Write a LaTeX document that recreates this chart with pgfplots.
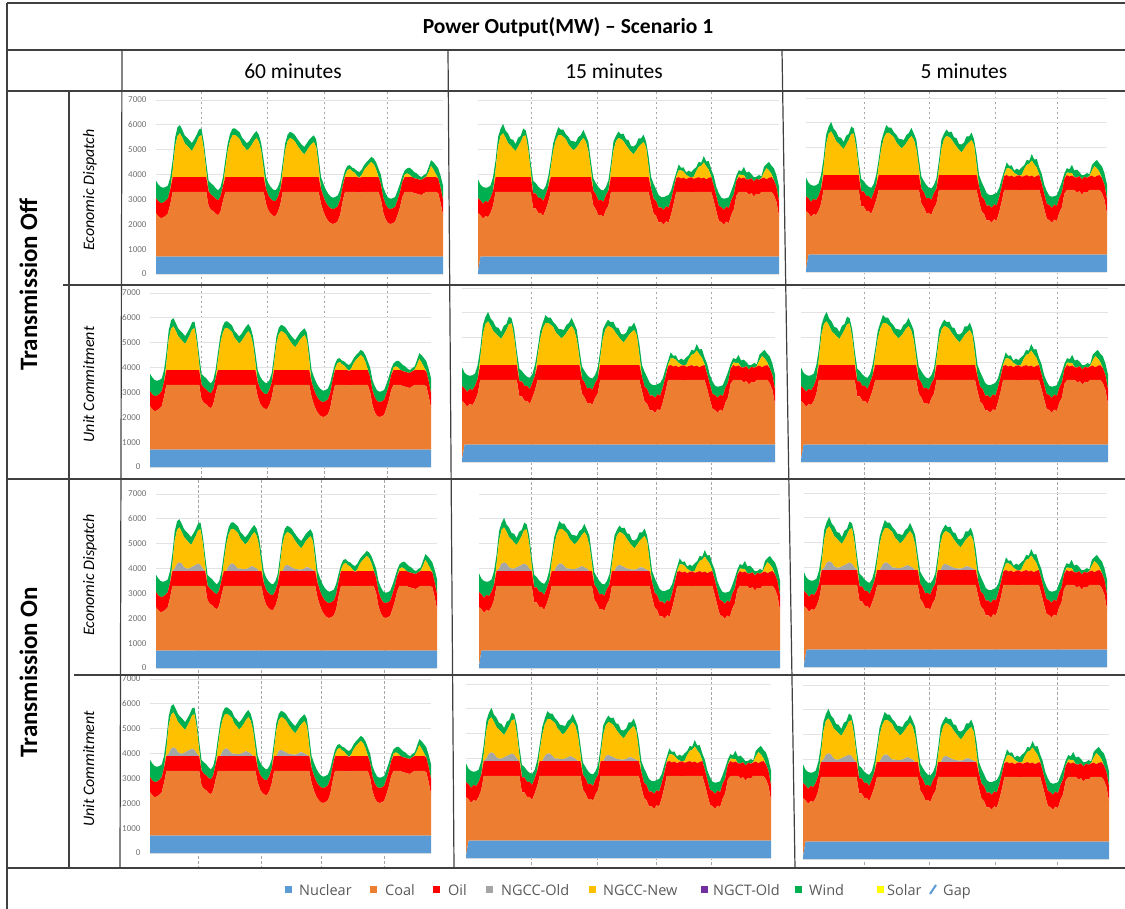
\documentclass[border=0pt]{standalone}
\usepackage{fontspec}
\setmainfont{Carlito}
\newfontfamily\legfont{Open Sans}
\usepackage{pgfplots}
\usepackage{pgfplotstable}
\pgfplotsset{compat=1.18}
\definecolor{cNuc}{HTML}{5B9BD5}
\definecolor{cCoal}{HTML}{ED7D31}
\definecolor{cOil}{HTML}{FF0000}
\definecolor{cOld}{HTML}{A5A5A5}
\definecolor{cNew}{HTML}{FFC000}
\definecolor{cCT}{HTML}{7030A0}
\definecolor{cWind}{HTML}{00B050}
\definecolor{cSolar}{HTML}{FFFF00}
\definecolor{gridc}{HTML}{E3E3E3}
\definecolor{tickc}{HTML}{707070}
\definecolor{linec}{HTML}{404040}
\definecolor{dashc}{HTML}{A6A6A6}
\definecolor{legc}{HTML}{595959}

% 60-minute, no NGCC-Old
\pgfplotstableread{
t nuc coal oil old new wind
0 700 1750 600 0 0 700
1 700 1620 600 0 0 680
2 700 1550 600 0 0 650
3 700 1570 600 0 0 600
4 700 1640 600 0 0 560
5 700 1740 600 0 0 520
6 700 2120 600 0 0 480
7 700 2600 600 0 280 420
8 700 2600 600 0 1230 370
9 700 2600 600 0 1660 340
10 700 2600 600 0 1760 330
11 700 2600 600 0 1580 320
12 700 2600 600 0 1360 320
13 700 2600 600 0 1260 320
14 700 2600 600 0 1150 330
15 700 2600 600 0 1050 320
16 700 2600 600 0 1220 300
17 700 2600 600 0 1410 290
18 700 2600 600 0 1640 280
19 700 2600 600 0 1680 270
20 700 2600 600 0 1100 300
21 700 2600 600 0 240 360
22 700 2020 600 0 0 430
23 700 1890 600 0 0 460
24 700 1820 600 0 0 450
25 700 1720 600 0 0 430
26 700 1665 600 0 0 400
27 700 1820 600 0 0 380
28 700 2240 600 0 0 360
29 700 2600 600 0 370 330
30 700 2600 600 0 1050 300
31 700 2600 600 0 1470 280
32 700 2600 600 0 1680 270
33 700 2600 600 0 1700 260
34 700 2600 600 0 1620 260
35 700 2600 600 0 1530 270
36 700 2600 600 0 1310 270
37 700 2600 600 0 1200 280
38 700 2600 600 0 1070 290
39 700 2600 600 0 1150 300
40 700 2600 600 0 1290 310
41 700 2600 600 0 1450 300
42 700 2600 600 0 1570 280
43 700 2600 600 0 1420 280
44 700 2600 600 0 1030 320
45 700 2600 600 0 300 400
46 700 2130 600 0 0 470
47 700 1850 600 0 0 500
48 700 1720 600 0 0 480
49 700 1640 600 0 0 460
50 700 1635 600 0 0 430
51 700 1800 600 0 0 400
52 700 2100 600 0 0 380
53 700 2600 600 0 270 330
54 700 2600 600 0 1060 290
55 700 2600 600 0 1440 260
56 700 2600 600 0 1570 250
57 700 2600 600 0 1530 250
58 700 2600 600 0 1440 260
59 700 2600 600 0 1280 270
60 700 2600 600 0 1140 280
61 700 2600 600 0 1010 290
62 700 2600 600 0 910 300
63 700 2600 600 0 1050 300
64 700 2600 600 0 1210 290
65 700 2600 600 0 1320 280
66 700 2600 600 0 1410 270
67 700 2600 600 0 1200 300
68 700 2600 600 0 400 400
69 700 2120 600 0 0 480
70 700 1810 600 0 0 520
71 700 1580 600 0 0 520
72 700 1430 600 0 0 500
73 700 1340 600 0 0 480
74 700 1310 600 0 0 460
75 700 1350 600 0 0 450
76 700 1420 600 0 0 440
77 700 1680 600 0 0 420
78 700 2200 600 0 0 300
79 700 2600 600 0 50 200
80 700 2600 600 0 270 180
81 700 2600 600 0 330 150
82 700 2600 600 0 230 150
83 700 2600 600 0 180 160
84 700 2600 600 0 50 200
85 700 2570 600 0 0 230
86 700 2600 600 0 80 220
87 700 2600 600 0 280 200
88 700 2600 600 0 410 190
89 700 2600 600 0 510 190
90 700 2600 600 0 610 200
91 700 2600 600 0 520 230
92 700 2600 600 0 320 280
93 700 2600 600 0 20 330
94 700 2320 600 0 0 380
95 700 1780 600 0 0 420
96 700 1500 600 0 0 450
97 700 1350 600 0 0 430
98 700 1310 600 0 0 420
99 700 1340 600 0 0 410
100 700 1400 600 0 0 400
101 700 1670 600 0 0 380
102 700 1980 600 0 0 350
103 700 2400 600 0 0 250
104 700 2600 600 0 100 170
105 700 2600 600 0 150 200
106 700 2600 600 0 100 280
107 700 2600 600 0 0 300
108 700 2550 600 0 0 250
109 700 2530 600 0 0 220
110 700 2500 600 0 0 150
111 700 2480 600 0 0 120
112 700 2550 600 0 0 130
113 700 2600 600 0 20 120
114 700 2600 600 0 200 200
115 700 2600 600 0 450 230
116 700 2600 600 0 300 300
117 700 2600 600 0 120 360
118 700 2550 600 0 0 400
119 700 2150 600 0 0 500
120 700 1670 600 0 0 600
}\tA

% 60-minute, with NGCC-Old
\pgfplotstableread{
t nuc coal oil old new wind
0 700 1750 600 0 0 700
1 700 1620 600 0 0 680
2 700 1550 600 0 0 650
3 700 1570 600 0 0 600
4 700 1640 600 0 0 560
5 700 1740 600 0 0 520
6 700 2120 600 0 0 480
7 700 2600 600 0 280 420
8 700 2600 600 100 1130 370
9 700 2600 600 300 1360 340
10 700 2600 600 350 1410 330
11 700 2600 600 300 1280 320
12 700 2600 600 150 1210 320
13 700 2600 600 100 1160 320
14 700 2600 600 100 1050 330
15 700 2600 600 150 900 320
16 700 2600 600 200 1020 300
17 700 2600 600 250 1160 290
18 700 2600 600 300 1340 280
19 700 2600 600 250 1430 270
20 700 2600 600 100 1000 300
21 700 2600 600 0 240 360
22 700 2020 600 0 0 430
23 700 1890 600 0 0 460
24 700 1820 600 0 0 450
25 700 1720 600 0 0 430
26 700 1665 600 0 0 400
27 700 1820 600 0 0 380
28 700 2240 600 0 0 360
29 700 2600 600 0 370 330
30 700 2600 600 0 1050 300
31 700 2600 600 200 1270 280
32 700 2600 600 300 1380 270
33 700 2600 600 300 1400 260
34 700 2600 600 200 1420 260
35 700 2600 600 100 1430 270
36 700 2600 600 100 1210 270
37 700 2600 600 80 1120 280
38 700 2600 600 80 990 290
39 700 2600 600 100 1050 300
40 700 2600 600 150 1140 310
41 700 2600 600 200 1250 300
42 700 2600 600 150 1420 280
43 700 2600 600 100 1320 280
44 700 2600 600 0 1030 320
45 700 2600 600 0 300 400
46 700 2130 600 0 0 470
47 700 1850 600 0 0 500
48 700 1720 600 0 0 480
49 700 1640 600 0 0 460
50 700 1635 600 0 0 430
51 700 1800 600 0 0 400
52 700 2100 600 0 0 380
53 700 2600 600 0 270 330
54 700 2600 600 0 1060 290
55 700 2600 600 200 1240 260
56 700 2600 600 250 1320 250
57 700 2600 600 200 1330 250
58 700 2600 600 150 1290 260
59 700 2600 600 100 1180 270
60 700 2600 600 80 1060 280
61 700 2600 600 60 950 290
62 700 2600 600 60 850 300
63 700 2600 600 80 970 300
64 700 2600 600 150 1060 290
65 700 2600 600 150 1170 280
66 700 2600 600 100 1310 270
67 700 2600 600 50 1150 300
68 700 2600 600 0 400 400
69 700 2120 600 0 0 480
70 700 1810 600 0 0 520
71 700 1580 600 0 0 520
72 700 1430 600 0 0 500
73 700 1340 600 0 0 480
74 700 1310 600 0 0 460
75 700 1350 600 0 0 450
76 700 1420 600 0 0 440
77 700 1680 600 0 0 420
78 700 2200 600 0 0 300
79 700 2600 600 0 50 200
80 700 2600 600 0 270 180
81 700 2600 600 0 330 150
82 700 2600 600 0 230 150
83 700 2600 600 0 180 160
84 700 2600 600 0 50 200
85 700 2570 600 0 0 230
86 700 2600 600 0 80 220
87 700 2600 600 0 280 200
88 700 2600 600 0 410 190
89 700 2600 600 0 510 190
90 700 2600 600 0 610 200
91 700 2600 600 0 520 230
92 700 2600 600 0 320 280
93 700 2600 600 0 20 330
94 700 2320 600 0 0 380
95 700 1780 600 0 0 420
96 700 1500 600 0 0 450
97 700 1350 600 0 0 430
98 700 1310 600 0 0 420
99 700 1340 600 0 0 410
100 700 1400 600 0 0 400
101 700 1670 600 0 0 380
102 700 1980 600 0 0 350
103 700 2400 600 0 0 250
104 700 2600 600 0 100 170
105 700 2600 600 0 150 200
106 700 2600 600 0 100 280
107 700 2600 600 0 0 300
108 700 2550 600 0 0 250
109 700 2530 600 0 0 220
110 700 2500 600 0 0 150
111 700 2480 600 0 0 120
112 700 2550 600 0 0 130
113 700 2600 600 0 20 120
114 700 2600 600 0 200 200
115 700 2600 600 0 450 230
116 700 2600 600 0 300 300
117 700 2600 600 0 120 360
118 700 2550 600 0 0 400
119 700 2150 600 0 0 500
120 700 1670 600 0 0 600
}\tB

% 15/5-minute, no NGCC-Old
\pgfplotstableread{
t nuc coal oil old new wind
0 100 2350 600 0 0 760
1 700 1660 600 0 0 630
2 700 1520 600 0 0 680
3 700 1640 600 0 0 530
4 700 1590 600 0 0 600
5 700 1760 600 0 0 500
6 700 2040 600 0 0 560
7 700 2600 600 0 280 380
8 700 2600 600 0 1230 380
9 700 2600 600 0 1660 280
10 700 2600 600 0 1760 380
11 700 2600 600 0 1580 290
12 700 2600 600 0 1360 390
13 700 2600 600 0 1260 270
14 700 2600 600 0 1150 350
15 700 2600 600 0 1050 280
16 700 2600 600 0 1220 360
17 700 2600 600 0 1410 240
18 700 2600 600 0 1640 310
19 700 2600 600 0 1680 200
20 700 2600 600 0 1100 340
21 700 2600 600 0 240 340
22 700 1940 600 0 0 510
23 700 1940 600 0 0 420
24 700 1760 600 0 0 460
25 700 1760 600 0 0 370
26 700 1635 600 0 0 450
27 700 1890 600 0 0 350
28 700 2190 600 0 0 430
29 700 2600 600 0 370 280
30 700 2600 600 0 1050 320
31 700 2600 600 0 1470 240
32 700 2600 600 0 1680 330
33 700 2600 600 0 1700 210
34 700 2600 600 0 1620 290
35 700 2600 600 0 1530 200
36 700 2600 600 0 1310 310
37 700 2600 600 0 1200 260
38 700 2600 600 0 1070 370
39 700 2600 600 0 1150 260
40 700 2600 600 0 1290 320
41 700 2600 600 0 1450 240
42 700 2600 600 0 1570 330
43 700 2600 600 0 1420 250
44 700 2600 600 0 1030 390
45 700 2600 600 0 300 350
46 700 2050 600 0 0 490
47 700 1900 600 0 0 460
48 700 1660 600 0 0 540
49 700 1680 600 0 0 410
50 700 1605 600 0 0 460
51 700 1870 600 0 0 330
52 700 2050 600 0 0 420
53 700 2600 600 0 270 310
54 700 2600 600 0 1060 370
55 700 2600 600 0 1440 220
56 700 2600 600 0 1570 260
57 700 2600 600 0 1530 190
58 700 2600 600 0 1440 310
59 700 2600 600 0 1280 240
60 700 2600 600 0 1140 350
61 700 2600 600 0 1010 240
62 700 2600 600 0 910 320
63 700 2600 600 0 1050 260
64 700 2600 600 0 1210 350
65 700 2600 600 0 1320 230
66 700 2600 600 0 1410 300
67 700 2600 600 0 1200 230
68 700 2600 600 0 400 440
69 700 2140 600 0 0 460
70 700 1730 600 0 0 600
71 700 1630 600 0 0 480
72 700 1370 600 0 0 510
73 700 1380 600 0 0 420
74 700 1280 600 0 0 510
75 700 1420 600 0 0 420
76 700 1370 600 0 0 510
77 700 1700 600 0 0 370
78 700 2120 600 0 0 320
79 700 2600 560 0 50 160
80 700 2600 600 0 270 240
81 700 2600 540 0 330 100
82 700 2600 580 0 230 180
83 700 2600 510 0 180 90
84 700 2600 570 0 50 240
85 700 2590 600 0 0 210
86 700 2600 530 0 80 300
87 700 2600 560 0 280 160
88 700 2600 600 0 410 200
89 700 2600 540 0 510 130
90 700 2600 580 0 610 250
91 700 2600 510 0 520 200
92 700 2600 570 0 320 350
93 700 2600 600 0 20 280
94 700 2240 600 0 0 400
95 700 1830 600 0 0 380
96 700 1440 600 0 0 510
97 700 1390 600 0 0 380
98 700 1280 600 0 0 450
99 700 1410 600 0 0 340
100 700 1350 600 0 0 440
101 700 1690 600 0 0 360
102 700 1900 600 0 0 430
103 700 2450 600 0 0 210
104 700 2600 600 0 100 180
105 700 2600 540 0 150 140
106 700 2600 580 0 100 330
107 700 2600 510 0 0 270
108 700 2500 600 0 0 320
109 700 2550 600 0 0 170
110 700 2420 600 0 0 170
111 700 2530 600 0 0 80
112 700 2490 600 0 0 190
113 700 2600 540 0 20 70
114 700 2600 580 0 200 230
115 700 2600 510 0 450 160
116 700 2600 570 0 300 340
117 700 2600 600 0 120 340
118 700 2470 600 0 0 480
119 700 2200 600 0 0 460
120 700 1610 600 0 0 610
}\tC

% 15/5-minute, with NGCC-Old
\pgfplotstableread{
t nuc coal oil old new wind
0 100 2350 600 0 0 760
1 700 1660 600 0 0 630
2 700 1520 600 0 0 680
3 700 1640 600 0 0 530
4 700 1590 600 0 0 600
5 700 1760 600 0 0 500
6 700 2040 600 0 0 560
7 700 2600 600 0 280 380
8 700 2600 600 100 1130 380
9 700 2600 600 300 1360 280
10 700 2600 600 350 1410 380
11 700 2600 600 300 1280 290
12 700 2600 600 150 1210 390
13 700 2600 600 100 1160 270
14 700 2600 600 100 1050 350
15 700 2600 600 150 900 280
16 700 2600 600 200 1020 360
17 700 2600 600 250 1160 240
18 700 2600 600 300 1340 310
19 700 2600 600 250 1430 200
20 700 2600 600 100 1000 340
21 700 2600 600 0 240 340
22 700 1940 600 0 0 510
23 700 1940 600 0 0 420
24 700 1760 600 0 0 460
25 700 1760 600 0 0 370
26 700 1635 600 0 0 450
27 700 1890 600 0 0 350
28 700 2190 600 0 0 430
29 700 2600 600 0 370 280
30 700 2600 600 0 1050 320
31 700 2600 600 200 1270 240
32 700 2600 600 300 1380 330
33 700 2600 600 300 1400 210
34 700 2600 600 200 1420 290
35 700 2600 600 100 1430 200
36 700 2600 600 100 1210 310
37 700 2600 600 80 1120 260
38 700 2600 600 80 990 370
39 700 2600 600 100 1050 260
40 700 2600 600 150 1140 320
41 700 2600 600 200 1250 240
42 700 2600 600 150 1420 330
43 700 2600 600 100 1320 250
44 700 2600 600 0 1030 390
45 700 2600 600 0 300 350
46 700 2050 600 0 0 490
47 700 1900 600 0 0 460
48 700 1660 600 0 0 540
49 700 1680 600 0 0 410
50 700 1605 600 0 0 460
51 700 1870 600 0 0 330
52 700 2050 600 0 0 420
53 700 2600 600 0 270 310
54 700 2600 600 0 1060 370
55 700 2600 600 200 1240 220
56 700 2600 600 250 1320 260
57 700 2600 600 200 1330 190
58 700 2600 600 150 1290 310
59 700 2600 600 100 1180 240
60 700 2600 600 80 1060 350
61 700 2600 600 60 950 240
62 700 2600 600 60 850 320
63 700 2600 600 80 970 260
64 700 2600 600 150 1060 350
65 700 2600 600 150 1170 230
66 700 2600 600 100 1310 300
67 700 2600 600 50 1150 230
68 700 2600 600 0 400 440
69 700 2140 600 0 0 460
70 700 1730 600 0 0 600
71 700 1630 600 0 0 480
72 700 1370 600 0 0 510
73 700 1380 600 0 0 420
74 700 1280 600 0 0 510
75 700 1420 600 0 0 420
76 700 1370 600 0 0 510
77 700 1700 600 0 0 370
78 700 2120 600 0 0 320
79 700 2600 560 0 50 160
80 700 2600 600 0 270 240
81 700 2600 540 0 330 100
82 700 2600 580 0 230 180
83 700 2600 510 0 180 90
84 700 2600 570 0 50 240
85 700 2590 600 0 0 210
86 700 2600 530 0 80 300
87 700 2600 560 0 280 160
88 700 2600 600 0 410 200
89 700 2600 540 0 510 130
90 700 2600 580 0 610 250
91 700 2600 510 0 520 200
92 700 2600 570 0 320 350
93 700 2600 600 0 20 280
94 700 2240 600 0 0 400
95 700 1830 600 0 0 380
96 700 1440 600 0 0 510
97 700 1390 600 0 0 380
98 700 1280 600 0 0 450
99 700 1410 600 0 0 340
100 700 1350 600 0 0 440
101 700 1690 600 0 0 360
102 700 1900 600 0 0 430
103 700 2450 600 0 0 210
104 700 2600 600 0 100 180
105 700 2600 540 0 150 140
106 700 2600 580 0 100 330
107 700 2600 510 0 0 270
108 700 2500 600 0 0 320
109 700 2550 600 0 0 170
110 700 2420 600 0 0 170
111 700 2530 600 0 0 80
112 700 2490 600 0 0 190
113 700 2600 540 0 20 70
114 700 2600 580 0 200 230
115 700 2600 510 0 450 160
116 700 2600 570 0 300 340
117 700 2600 600 0 120 340
118 700 2470 600 0 0 480
119 700 2200 600 0 0 460
120 700 1610 600 0 0 610
}\tD

\pgfplotsset{panel/.style={
  scale only axis, anchor=south west,
  xmin=0, xmax=120, ymin=0, ymax=7000,
  axis line style={draw=none},
  xtick=\empty, ytick={0,1000,...,7000},
  major tick length=0pt,
  scaled y ticks=false,
  ymajorgrids, grid style={gridc, line width=0.9pt},
  stack plots=y,
  yticklabel style={font=\fontsize{9}{10}\selectfont, text=tickc, xshift=-6pt},
  /pgf/number format/assume math mode=true,
  /pgf/number format/1000 sep={},
}}
\newcommand\stackA[1]{%
  \addplot[fill=cNuc,draw=none] table[x=t,y=nuc]{#1}\closedcycle;
  \addplot[fill=cCoal,draw=none] table[x=t,y=coal]{#1}\closedcycle;
  \addplot[fill=cOil,draw=none] table[x=t,y=oil]{#1}\closedcycle;
  \addplot[fill=cNew,draw=none] table[x=t,y=new]{#1}\closedcycle;
  \addplot[fill=cWind,draw=none] table[x=t,y=wind]{#1}\closedcycle;}
\newcommand\stackB[1]{%
  \addplot[fill=cNuc,draw=none] table[x=t,y=nuc]{#1}\closedcycle;
  \addplot[fill=cCoal,draw=none] table[x=t,y=coal]{#1}\closedcycle;
  \addplot[fill=cOil,draw=none] table[x=t,y=oil]{#1}\closedcycle;
  \addplot[fill=cOld,draw=none] table[x=t,y=old]{#1}\closedcycle;
  \addplot[fill=cNew,draw=none] table[x=t,y=new]{#1}\closedcycle;
  \addplot[fill=cWind,draw=none] table[x=t,y=wind]{#1}\closedcycle;}

\begin{document}
\begin{tikzpicture}
\useasboundingbox (0pt,0pt) rectangle (1125pt,-909pt);

% dashed vertical separators inside the cells
\begin{scope}[x=1pt,y=-1pt]
\tikzset{dl/.style={dashc, dash pattern=on 2.5pt off 2.5pt, line width=0.8pt}}
\foreach \xx in {201,267,324,387}{\draw[dl] (\xx,92)--(\xx,285);\draw[dl] (\xx,286)--(\xx,478);}
\foreach \xx in {198,261,321,384}{\draw[dl] (\xx,480)--(\xx,674);\draw[dl] (\xx,676)--(\xx,867);}
\foreach \xx in {531,597,656,711}{\draw[dl] (\xx,92)--(\xx,867);}
\foreach \xx in {864,929,995,1057}{\draw[dl] (\xx,92)--(\xx,867);}
\end{scope}

% Row 1: Transmission Off, Economic Dispatch
\begin{axis}[panel, at={(156pt,-274pt)}, width=287pt, height=174pt]\stackA\tA\end{axis}
\begin{axis}[panel, yticklabels={}, at={(478pt,-274pt)}, width=301pt, height=174pt]\stackA\tC\end{axis}
\begin{axis}[panel, yticklabels={}, at={(806pt,-272pt)}, width=301pt, height=174pt]\stackA\tC\end{axis}
% Row 2: Transmission Off, Unit Commitment
\begin{axis}[panel, at={(150pt,-467pt)}, width=281pt, height=174pt]\stackA\tA\end{axis}
\begin{axis}[panel, yticklabels={}, at={(462pt,-462pt)}, width=313pt, height=174pt]\stackA\tC\end{axis}
\begin{axis}[panel, yticklabels={}, at={(801pt,-462pt)}, width=307pt, height=174pt]\stackA\tC\end{axis}
% Row 3: Transmission On, Economic Dispatch
\begin{axis}[panel, at={(156pt,-668pt)}, width=281pt, height=174pt]\stackB\tB\end{axis}
\begin{axis}[panel, yticklabels={}, at={(479pt,-668pt)}, width=301pt, height=174pt]\stackB\tD\end{axis}
\begin{axis}[panel, yticklabels={}, at={(804pt,-667pt)}, width=303pt, height=174pt]\stackB\tD\end{axis}
% Row 4: Transmission On, Unit Commitment
\begin{axis}[panel, at={(150pt,-853pt)}, width=281pt, height=174pt]\stackB\tB\end{axis}
\begin{axis}[panel, yticklabels={}, at={(466pt,-858pt)}, width=305pt, height=174pt]\stackB\tD\end{axis}
\begin{axis}[panel, yticklabels={}, at={(803pt,-859pt)}, width=306pt, height=174pt]\stackB\tD\end{axis}

% table rules
\begin{scope}[x=1pt,y=-1pt, linec, line width=1.2pt]
\draw (7,3)--(1125,3);
\draw (7,50)--(1125,50);
\draw (7,91)--(1125,91);
\draw (7,3)--(7,909);
\draw (69,91)--(69,868);
\draw (122,50)--(120,868);
\draw (448,50)--(454,868);
\draw (782,50)--(795,868);
\draw (63,285)--(1125,285);
\draw (7,479)--(1125,479);
\draw (74,675)--(1125,675);
\draw (7,868)--(1125,868);
\end{scope}

% texts
\begin{scope}[x=1pt,y=-1pt]
\node[anchor=base, font=\bfseries\fontsize{21.5}{25}\selectfont] at (568,34) {Power Output(MW) – Scenario 1};
\node[anchor=base, font=\fontsize{21.5}{25}\selectfont] at (293,78.5) {60 minutes};
\node[anchor=base, font=\fontsize{21.5}{25}\selectfont] at (614,78.5) {15 minutes};
\node[anchor=base, font=\fontsize{21.5}{25}\selectfont] at (964,78.5) {5 minutes};
\node[rotate=90, anchor=base, font=\bfseries\fontsize{25}{30}\selectfont] at (37,284.5) {Transmission Off};
\node[rotate=90, anchor=base, font=\bfseries\fontsize{25}{30}\selectfont] at (37,672) {Transmission On};
\node[rotate=90, anchor=base, font=\itshape\fontsize{16}{19}\selectfont] at (94,190) {Economic Dispatch};
\node[rotate=90, anchor=base, font=\itshape\fontsize{16}{19}\selectfont] at (94,384.5) {Unit Commitment};
\node[rotate=90, anchor=base, font=\itshape\fontsize{16}{19}\selectfont] at (94,575) {Economic Dispatch};
\node[rotate=90, anchor=base, font=\itshape\fontsize{16}{19}\selectfont] at (94,769) {Unit Commitment};

% legend
\tikzset{lt/.style={anchor=base west, inner sep=0pt, text=legc, font=\legfont\fontsize{14.5}{17}\selectfont}}
\fill[cNuc] (284.5,886) rectangle (291.5,893);   \node[lt] at (299,895) {Nuclear};
\fill[cCoal] (369.5,886) rectangle (376.5,893);  \node[lt] at (385,895) {Coal};
\fill[cOil] (432.5,886) rectangle (439.5,893);   \node[lt] at (448,895) {Oil};
\fill[cOld] (485.5,886) rectangle (492.5,893);   \node[lt] at (501,895) {NGCC-Old};
\fill[cNew] (588.5,886) rectangle (595.5,893);   \node[lt] at (603,895) {NGCC-New};
\fill[cCT] (700.5,886) rectangle (707.5,893);    \node[lt] at (713,895) {NGCT-Old};
\fill[cWind] (794.5,886) rectangle (801.5,893);  \node[lt] at (809,895) {Wind};
\fill[cSolar] (876.5,886) rectangle (883.5,893); \node[lt] at (887,895) {Solar};
\draw[cNuc, line width=2pt] (930,894)--(936,885); \node[lt] at (943,895) {Gap};
\end{scope}
\end{tikzpicture}
\end{document}
